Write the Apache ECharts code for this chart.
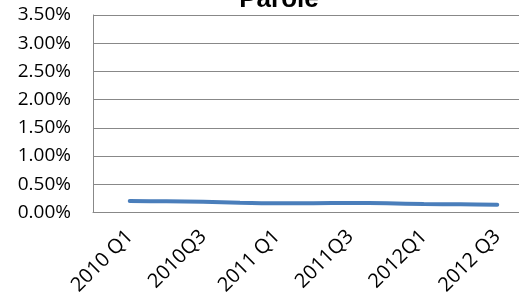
<!DOCTYPE html>
<html>
<head>
<meta charset="utf-8">
<script src="https://cdn.jsdelivr.net/npm/echarts@6/dist/echarts.min.js"></script>
<style>
  html, body { margin: 0; padding: 0; background: #fff; }
</style>
</head>
<body>
<div id="chart" style="width: 519px; height: 304px;"></div>
<script>
// quarters (labels as written on the chart; unlabeled ones guessed)
const quarters = ['2010 Q1', '2010 Q2', '2010Q3', '2010Q4', '2011 Q1', '2011 Q2',
  '2011Q3', '2011Q4', '2012Q1', '2012Q2', '2012 Q3'];
// parole rate, in percent
const parole = [0.204, 0.199, 0.19, 0.172, 0.163, 0.165, 0.168, 0.163, 0.15, 0.144, 0.138];
const yTicks = [0, 0.5, 1, 1.5, 2, 2.5, 3, 3.5];

// padding slots so the line sits inside the plot like the original
const cats = [''].concat(quarters, [' ']);

const myChart = echarts.init(document.getElementById('chart'));

const option = {
  animation: false,
  title: {
    text: 'Parole',
    left: 274,
    top: -18,
    textAlign: 'center',
    textStyle: {
      fontFamily: 'Liberation Sans',
      fontWeight: 'bold',
      fontSize: 26,
      color: '#000'
    }
  },
  grid: {
    left: 93,
    width: 441,
    top: 15,
    bottom: 91.5,
    outerBoundsMode: 'none',
    containLabel: false
  },
  xAxis: {
    type: 'category',
    data: cats,
    boundaryGap: false,
    axisLine: { lineStyle: { color: '#888', width: 1 } },
    axisTick: { show: false },
    splitLine: { show: false },
    axisLabel: {
      interval: function (index) { return index % 2 === 1; },
      rotate: 45,
      margin: 21,
      fontFamily: 'Open Sans',
      fontSize: 20,
      color: '#000'
    }
  },
  yAxis: {
    type: 'value',
    min: yTicks[0],
    max: yTicks[yTicks.length - 1],
    interval: 0.5,
    axisLine: { show: true, lineStyle: { color: '#888', width: 1 } },
    axisTick: { show: false },
    splitLine: { lineStyle: { color: '#888', width: 1 } },
    axisLabel: {
      margin: 22,
      fontFamily: 'Open Sans',
      fontSize: 19,
      color: '#000',
      formatter: function (v) { return v.toFixed(2) + '%'; }
    }
  },
  series: [
    {
      name: 'Parole',
      type: 'line',
      data: quarters.map(function (q, i) { return [q, parole[i]]; }),
      smooth: 0.3,
      showSymbol: false,
      lineStyle: { color: '#4a7ebb', width: 4, cap: 'round' }
    }
  ]
};

myChart.setOption(option);
window.addEventListener('resize', myChart.resize);
</script>
</body>
</html>
